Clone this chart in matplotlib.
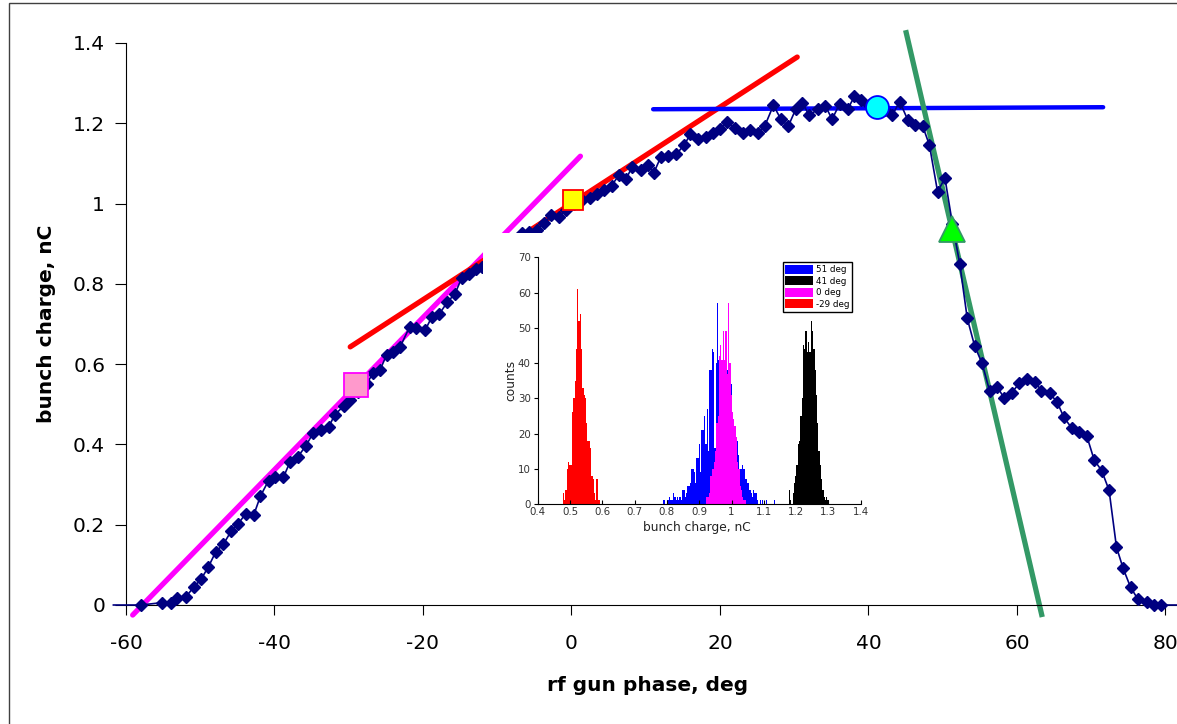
import numpy as np
import matplotlib.pyplot as plt
from matplotlib.patches import Rectangle

plt.rcParams['font.family'] = 'DejaVu Sans'
plt.rcParams['axes.unicode_minus'] = False

# measured bunch charge vs rf gun phase
phase = [-61.7, -58.0, -55.1, -54.0, -53.1, -51.9, -50.9, -49.9, -48.9, -47.9,
         -46.9, -45.8, -44.9, -43.9, -42.8, -41.9, -40.8, -39.9, -38.8, -37.9,
         -36.9, -35.8, -34.8, -33.7, -32.7, -31.9, -30.7, -29.8, -28.8, -27.6,
         -26.7, -25.8, -24.9, -24.0, -23.1, -21.8, -20.9, -19.7, -18.8, -17.8,
         -16.7, -15.7, -14.8, -13.8, -12.8, -12.0, -6.7, -5.7, -4.7, -3.7,
         -2.7, -1.7, -0.8, 0.3, 1.4, 2.5, 3.4, 4.4, 5.4, 6.4,
         7.3, 8.2, 9.3, 10.3, 11.1, 12.0, 13.0, 14.1, 15.2, 16.0,
         17.0, 18.1, 19.0, 20.0, 20.9, 22.0, 23.1, 24.1, 25.1, 26.0,
         27.2, 28.2, 29.2, 30.2, 31.1, 32.0, 33.2, 34.2, 35.1, 36.1,
         37.2, 38.1, 39.0, 40.1, 41.1, 42.2, 43.2, 44.2, 45.3, 46.2,
         47.3, 48.2, 49.3, 50.3, 51.3, 52.3, 53.3, 54.3, 55.3, 56.3,
         57.3, 58.3, 59.3, 60.3, 61.3, 62.4, 63.3, 64.4, 65.4, 66.3,
         67.4, 68.4, 69.4, 70.4, 71.4, 72.4, 73.4, 74.3, 75.3, 76.3,
         77.5, 78.4, 79.4, 81.6]
charge = [0.0, 0.0, 0.006, 0.004, 0.017, 0.021, 0.044, 0.064, 0.095, 0.133,
          0.151, 0.185, 0.202, 0.227, 0.224, 0.271, 0.310, 0.320, 0.318, 0.357,
          0.368, 0.396, 0.428, 0.436, 0.444, 0.473, 0.496, 0.511, 0.530, 0.550,
          0.579, 0.585, 0.623, 0.631, 0.642, 0.693, 0.689, 0.685, 0.718, 0.725,
          0.755, 0.775, 0.814, 0.824, 0.836, 0.843, 0.926, 0.930, 0.935, 0.951,
          0.971, 0.966, 0.985, 1.000, 1.008, 1.015, 1.023, 1.035, 1.045, 1.071,
          1.060, 1.092, 1.083, 1.096, 1.077, 1.115, 1.118, 1.123, 1.146, 1.173,
          1.160, 1.165, 1.177, 1.185, 1.202, 1.188, 1.177, 1.183, 1.177, 1.192,
          1.245, 1.210, 1.193, 1.235, 1.251, 1.220, 1.235, 1.243, 1.210, 1.248,
          1.235, 1.267, 1.257, 1.245, 1.240, 1.232, 1.220, 1.254, 1.208, 1.196,
          1.193, 1.146, 1.030, 1.063, 0.950, 0.849, 0.714, 0.645, 0.602, 0.534,
          0.544, 0.515, 0.529, 0.552, 0.562, 0.556, 0.534, 0.527, 0.506, 0.468,
          0.440, 0.432, 0.421, 0.361, 0.335, 0.286, 0.144, 0.091, 0.044, 0.014,
          0.008, 0.0, 0.0, 0.0]

# tangent lines (end points)
fit_m_x, fit_m_y = [-59.1, 1.2], [-0.025, 1.118]
fit_r_x, fit_r_y = [-29.8, 30.4], [0.643, 1.365]
fit_b_x, fit_b_y = [11.0, 71.6], [1.235, 1.240]
fit_g_x, fit_g_y = [45.0, 63.4], [1.432, -0.030]

# working points
pts_phase = [-29.0, 0.2, 41.1, 51.3]
pts_charge = [0.548, 1.010, 1.241, 0.936]

xticks = [-60, -40, -20, 0, 20, 40, 60, 80]
yticks = [0, 0.2, 0.4, 0.6, 0.8, 1.0, 1.2, 1.4]
ytick_labels = ['0', '0.2', '0.4', '0.6', '0.8', '1', '1.2', '1.4']

# inset histograms, bin width 0.004 nC
bin_w = 0.004
blue_start = 0.787   # 51 deg
blue_counts = [1, 1, 0, 1, 1, 2, 1, 1, 3, 2, 1, 2, 1, 2, 1, 4, 4, 2, 3, 5,
               5, 6, 10, 10, 9, 6, 13, 13, 17, 9, 21, 21, 25, 17, 27, 15, 38, 38, 44, 43,
               16, 40, 57, 41, 45, 35, 38, 33, 41, 30, 38, 28, 33, 34, 20, 22, 18, 18, 14, 9,
               10, 11, 10, 10, 7, 6, 6, 4, 3, 2, 4, 3, 3, 1, 0, 1, 0, 1, 0, 0,
               1, 0, 0, 0, 0, 0, 1]
black_start = 1.177  # 41 deg
black_counts = [4, 1, 0, 3, 6, 8, 11, 17, 18, 25, 30, 45, 44, 49, 43, 46, 43, 52, 49, 44,
                38, 31, 23, 15, 11, 7, 4, 2, 1, 2, 1]
magenta_start = 0.921  # 0 deg
magenta_counts = [2, 2, 3, 8, 8, 10, 12, 15, 23, 25, 42, 45, 41, 49, 41, 49, 37, 57, 40, 31,
                  26, 24, 22, 19, 12, 10, 5, 4, 2, 1, 1]
red_start = 0.478    # -29 deg
red_counts = [3, 1, 4, 10, 12, 11, 11, 26, 30, 35, 44, 61, 52, 54, 44, 33, 31, 30, 23, 18,
              18, 16, 8, 7, 3, 1, 7, 1, 1]
hist_labels = ['51 deg', '41 deg', '0 deg', '-29 deg']


def edges(start, counts):
    return start + bin_w * np.arange(len(counts) + 1)


W, H = 1177, 724
fig = plt.figure(figsize=(W / 100, H / 100), dpi=100)

# outer frame
fig.add_artist(Rectangle((8.5 / W, -0.1), 1.2, 1 - 3.5 / H + 0.1, transform=fig.transFigure,
                         fill=False, ec='#404040', lw=1.0))

ax = fig.add_axes([126 / W, 1 - 605 / H, 1 - 126 / W, (605 - 43) / H], zorder=0)
ax.set_facecolor('none')

ax.plot(fit_m_x, fit_m_y, color='#FF00FF', lw=3.8, solid_capstyle='round', clip_on=False, zorder=2)
ax.plot(fit_r_x, fit_r_y, color='#FF0000', lw=3.8, solid_capstyle='round', clip_on=False, zorder=2)
ax.plot(fit_b_x, fit_b_y, color='#0000FF', lw=3.2, solid_capstyle='round', clip_on=False, zorder=2)
ax.plot(fit_g_x, fit_g_y, color='#339966', lw=3.8, solid_capstyle='butt', clip_on=False, zorder=2)

ax.plot(phase, charge, color='#000080', lw=1.2, marker='D', ms=6, mfc='#000080', mec='#000080',
        markevery=list(range(1, len(phase) - 1)), clip_on=False, zorder=3)

ax.plot(pts_phase[0], pts_charge[0], 's', ms=17, mfc='#FF99CC', mec='#FF00FF', mew=1.3, clip_on=False, zorder=5)
ax.plot(pts_phase[1], pts_charge[1], 's', ms=15, mfc='#FFFF00', mec='#FF0000', mew=1.3, clip_on=False, zorder=5)
ax.plot(pts_phase[2], pts_charge[2], 'o', ms=16.5, mfc='#00FFFF', mec='#0000FF', mew=1.3, clip_on=False, zorder=5)
ax.plot(pts_phase[3], pts_charge[3], '^', ms=19, mfc='#00FF00', mec='#339966', mew=1.3, clip_on=False, zorder=5)

ax.set_xlim(-60, 81.55)
ax.set_ylim(0, 1.4)
ax.spines['top'].set_visible(False)
ax.spines['right'].set_visible(False)
ax.set_xticks(xticks)
ax.set_xticklabels([str(v) for v in xticks])
ax.set_yticks(yticks)
ax.set_yticklabels(ytick_labels)
ax.tick_params(axis='x', direction='out', length=7, pad=14, labelsize=14.5)
ax.tick_params(axis='y', direction='out', length=8, pad=7, labelsize=14.5)
ax.set_xlabel('rf gun phase, deg', fontsize=14.5, fontweight='bold')
ax.set_ylabel('bunch charge, nC', fontsize=14.5, fontweight='bold')
ax.xaxis.set_label_coords(0.496, -0.126)
ax.yaxis.set_label_coords(-0.0666, 0.5)

# white background of the pasted inset
fig.add_artist(Rectangle((483 / W, 1 - 545 / H), 392 / W, 312 / H, transform=fig.transFigure,
                         fc='white', ec='none', zorder=1))

ins = fig.add_axes([537.7 / W, 1 - 504 / H, 323 / W, 246.7 / H], zorder=2)
ins.set_facecolor('none')
h1 = ins.stairs(blue_counts, edges(blue_start, blue_counts), fill=True, color='#0000FF')
h2 = ins.stairs(black_counts, edges(black_start, black_counts), fill=True, color='#000000')
h3 = ins.stairs(magenta_counts, edges(magenta_start, magenta_counts), fill=True, color='#FF00FF')
h4 = ins.stairs(red_counts, edges(red_start, red_counts), fill=True, color='#FF0000')

ins.set_xlim(0.4, 1.4)
ins.set_ylim(0, 70)
ins.spines['top'].set_visible(False)
ins.spines['right'].set_visible(False)
ins_xticks = [0.4, 0.5, 0.6, 0.7, 0.8, 0.9, 1.0, 1.1, 1.2, 1.3, 1.4]
ins.set_xticks(ins_xticks)
ins.set_xticklabels(['0.4', '0.5', '0.6', '0.7', '0.8', '0.9', '1', '1.1', '1.2', '1.3', '1.4'])
ins.set_yticks([0, 10, 20, 30, 40, 50, 60, 70])
ins.tick_params(axis='x', direction='in', length=3, pad=2, labelsize=7.4, labelcolor='#333333')
ins.tick_params(axis='y', direction='out', length=3, pad=2, labelsize=7.4, labelcolor='#333333')
ins.set_xlabel('bunch charge, nC', fontsize=8.8, color='#222222')
ins.set_ylabel('counts', fontsize=8.8, color='#222222')
ins.xaxis.set_label_coords(0.492, -0.069)
ins.yaxis.set_label_coords(-0.064, 0.5)

leg = ins.legend([h1, h2, h3, h4], hist_labels, loc='upper right', bbox_to_anchor=(0.973, 0.981),
                 fontsize=6.3, frameon=True, fancybox=False, edgecolor='black', framealpha=1,
                 handlelength=3.2, handleheight=1.2, labelspacing=0.25, borderpad=0.3,
                 handletextpad=0.3, borderaxespad=0)
leg.get_frame().set_linewidth(1.0)

fig.savefig('out.png', dpi=100)
